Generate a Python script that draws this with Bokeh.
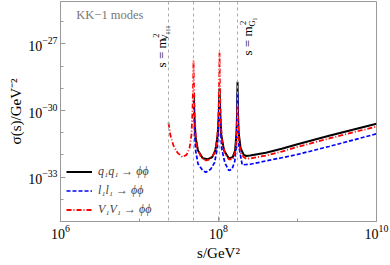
import numpy as np
from bokeh.plotting import figure
from bokeh.models import FixedTicker, Label, Span, Legend, LegendItem, Range1d
from bokeh.embed import file_html
from bokeh.resources import INLINE

# ---- data: log10(s/GeV^2) and log10(sigma/GeV^-2) ----
qq_log_s = [7.686, 7.695, 7.71, 7.74, 7.80, 7.86, 7.92, 7.96, 7.99, 8.003, 8.013,
            8.023, 8.035, 8.07, 8.13, 8.18, 8.21, 8.228, 8.236, 8.241, 8.246, 8.255,
            8.28, 8.32, 8.35, 8.4, 8.6, 8.8, 9.0, 9.2, 9.4, 9.6, 9.8, 10.0]
qq_log_sig = [-29.2, -30.3, -31.2, -31.8, -32.15, -32.2, -32.1, -31.8, -31.1, -30.2, -29.0,
              -30.2, -31.1, -31.8, -32.15, -32.1, -31.8, -31.0, -30.0, -28.7, -30.0, -31.0,
              -31.7, -32.0, -32.05, -32.03, -31.9, -31.72, -31.52, -31.33, -31.14, -30.96, -30.78, -30.6]

ll_log_s = [7.686, 7.695, 7.71, 7.74, 7.80, 7.84, 7.90, 7.95, 7.985, 8.0, 8.013,
            8.026, 8.04, 8.08, 8.13, 8.17, 8.205, 8.225, 8.235, 8.241, 8.247, 8.257,
            8.3, 8.4, 8.5, 8.6, 8.8, 9.0, 9.2, 9.4, 9.6, 9.8, 10.0]
ll_log_sig = [-29.6, -30.8, -31.8, -32.4, -32.7, -32.78, -32.65, -32.35, -31.7, -30.8, -29.5,
              -30.8, -31.7, -32.35, -32.7, -32.65, -32.3, -31.6, -30.5, -29.2, -30.5, -31.6,
              -32.45, -32.42, -32.35, -32.27, -32.13, -31.98, -31.8, -31.62, -31.43, -31.24, -31.05]

vv_log_s = [7.367, 7.392, 7.43, 7.48, 7.544, 7.595, 7.633, 7.658, 7.671, 7.68, 7.684,
            7.688, 7.697, 7.71, 7.73, 7.78, 7.84, 7.90, 7.95, 7.98, 7.995, 8.005, 8.010, 8.013,
            8.016, 8.021, 8.03, 8.045, 8.08, 8.13, 8.18, 8.21, 8.228, 8.236, 8.241,
            8.246, 8.255, 8.28, 8.32, 8.35, 8.4, 8.6, 8.8, 9.0, 9.2, 9.4, 9.6, 9.8, 10.0]
vv_log_sig = [-30.55, -31.13, -31.58, -31.9, -32.1, -32.0, -31.7, -31.1, -30.0, -28.6, -27.75,
              -28.6, -30.0, -31.1, -31.7, -32.1, -32.25, -32.2, -31.9, -31.4, -30.6, -29.5, -28.5, -27.4,
              -28.5, -29.5, -30.6, -31.4, -31.9, -32.2, -32.2, -31.9, -31.2, -30.5, -29.8,
              -30.5, -31.2, -31.9, -32.1, -32.17, -32.16, -32.03, -31.85, -31.64, -31.45, -31.26, -31.08, -30.9, -30.72]

# thresholds / resonances (log10 s) shown as dashed lines
vline_log_s = [7.367, 7.684, 8.013, 8.241]

series_labels = ["q\u2081q\u2081 \u2192 \u03d5\u03d5", "l\u2081l\u2081 \u2192 \u03d5\u03d5", "V\u2081V\u2081 \u2192 \u03d5\u03d5"]

x_major = [1e6, 1e8, 1e10]
x_minor = [1e6, 1e7, 1e8, 1e9, 1e10]
y_major = [1e-33, 1e-30, 1e-27]
y_minor = [10.0 ** k for k in range(-35, -24)]

SERIF = "Liberation Serif"

p = figure(width=390, height=265, output_backend="svg", toolbar_location=None,
           x_axis_type="log", y_axis_type="log",
           x_range=Range1d(1e6, 1e10), y_range=Range1d(1e-35, 10 ** -25.09),
           min_border_left=60, min_border_right=14, min_border_top=1, min_border_bottom=44,
           background_fill_color="white", border_fill_color="white")
p.grid.visible = False
p.outline_line_color = "#9a9a9a"
p.outline_line_width = 1

p.xaxis.ticker = FixedTicker(ticks=x_major, minor_ticks=x_minor)
p.yaxis.ticker = FixedTicker(ticks=y_major, minor_ticks=y_minor)
for ax in (p.xaxis[0], p.yaxis[0]):
    ax.axis_line_color = "#9a9a9a"
    ax.major_tick_line_color = "#9a9a9a"
    ax.minor_tick_line_color = "#9a9a9a"
    ax.major_tick_in = 5
    ax.major_tick_out = 0
    ax.minor_tick_in = 3
    ax.minor_tick_out = 0
    ax.major_label_text_font = SERIF
    ax.major_label_text_font_size = "14px"
    ax.major_label_text_color = "black"
    ax.axis_label_text_font = SERIF
    ax.axis_label_text_font_size = "15px"
    ax.axis_label_text_font_style = "normal"
    ax.axis_label_text_color = "black"
p.xaxis.major_label_standoff = 3
p.yaxis.major_label_standoff = 3
p.xaxis.axis_label = "s/GeV\u00b2"
p.yaxis.axis_label = "\u03c3(s)/GeV\u207b\u00b2"
p.xaxis.axis_label_standoff = 3
p.yaxis.axis_label_standoff = 1

for v in vline_log_s:
    p.add_layout(Span(location=10 ** v, dimension="height", line_color="#aaaaaa",
                      line_width=1, line_dash="3 3"))

def xs(a):
    return [10 ** v for v in a]

r_qq = p.line(xs(qq_log_s), xs(qq_log_sig), line_color="black", line_width=2)
r_ll = p.line(xs(ll_log_s), xs(ll_log_sig), line_color="#0000ff", line_width=1.7, line_dash="4 2")
r_vv = p.line(xs(vv_log_s), xs(vv_log_sig), line_color="#ff0000", line_width=1.8, line_dash="5 2 1 2")

legend = Legend(items=[LegendItem(label=series_labels[0], renderers=[r_qq]),
                       LegendItem(label=series_labels[1], renderers=[r_ll]),
                       LegendItem(label=series_labels[2], renderers=[r_vv])],
                location=(6, 2), border_line_color=None, background_fill_alpha=0,
                padding=0, margin=0, spacing=0, glyph_width=26, glyph_height=19,
                label_height=19, label_standoff=6,
                label_text_font=SERIF, label_text_font_size="12px",
                label_text_font_style="italic")
p.add_layout(legend)

# annotations
p.add_layout(Label(x=10 ** 6.2, y=10 ** -25.68, text="KK\u22121 modes", text_font=SERIF,
                   text_font_size="12.5px", text_color="#777777", text_baseline="middle"))

def rot_label(xlog, xoff, ylog, txt, size):
    return Label(x=10 ** xlog, y=10 ** ylog, x_offset=xoff, text=txt, angle=90, angle_units="deg",
                 text_font=SERIF, text_font_size=size, text_color="black",
                 text_align="left", text_baseline="middle")

p.add_layout(rot_label(vline_log_s[0], -7, -28.06, "s = m", "13px"))
p.add_layout(rot_label(vline_log_s[0], -12, -26.72, "2", "8.5px"))
p.add_layout(rot_label(vline_log_s[0], -3, -26.85, "V\u2081\u2081\u2081", "8.5px"))
p.add_layout(rot_label(vline_log_s[3], 10, -27.52, "s = m", "13px"))
p.add_layout(rot_label(vline_log_s[3], 5, -26.15, "2", "8.5px"))
p.add_layout(rot_label(vline_log_s[3], 14, -26.22, "G\u2081", "8.5px"))

open("out.html", "w").write(file_html(p, INLINE))
